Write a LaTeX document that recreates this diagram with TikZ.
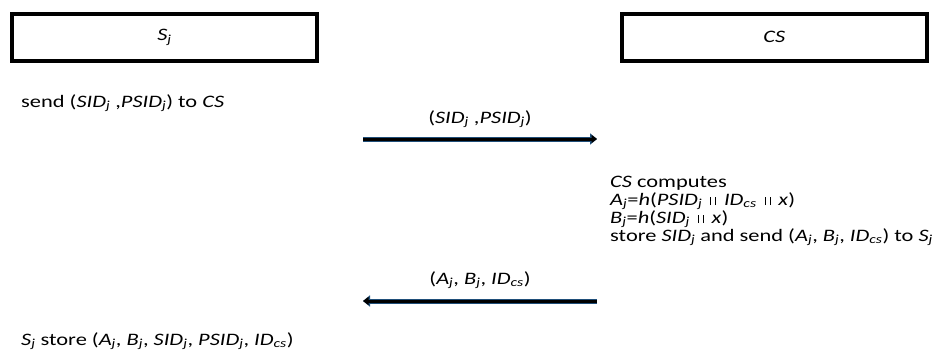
\documentclass[tikz,border=0pt]{standalone}
\usepackage{fontspec}
\setmainfont[FakeStretch=1.28]{Carlito}
\usetikzlibrary{arrows.meta}
\newcommand{\isub}[1]{\textsubscript{\textit{#1}}}
\newcommand{\cc}{\hspace{8pt}\rule{0.9pt}{8pt}\hspace{4pt}\rule{0.9pt}{8pt}\hspace{8pt}}
\begin{document}
\begin{tikzpicture}[x=1pt,y=-1pt,
  actor/.style={draw, line width=4pt, minimum width=305pt, minimum height=47pt, inner sep=0pt, font=\fontsize{17.5}{18}\selectfont},
  txt/.style={anchor=base west, inner sep=0pt, font=\fontsize{17.5}{18}\selectfont},
  lbl/.style={anchor=base, inner sep=0pt, font=\fontsize{17.5}{18}\selectfont},
  msgblue/.style={line width=5pt, draw={rgb,255:red,31;green,78;blue,121}, -{Triangle[length=7pt,width=11pt]}},
  msgblack/.style={line width=3pt, draw=black, -{Triangle[length=5.5pt,width=8pt]}}]
\useasboundingbox (0,0) rectangle (952,356);
\node[actor] (sj) at (164.5,37.2) {\textit{S\isub{j}}};
\node[actor] (cs) at (774.3,37.2) {\textit{CS}};
\node[txt] (t1) at (21,107) {send (\textit{SID\isub{j}} ,\textit{PSID\isub{j}}) to \textit{CS}};
\coordinate (a1s) at (363,139);
\coordinate (a1e) at (597,139);
\node[lbl] (l1) at (480,123) {(\textit{SID\isub{j}} ,\textit{PSID\isub{j}})};
\draw[msgblue] (a1s) -- (a1e);
\draw[msgblack] (a1s) -- (a1e);
\node[txt] (c1) at (610,187) {\textit{CS} computes};
\node[txt] (c2) at (610,205) {\textit{A\isub{j}}=\textit{h}(\textit{PSID\isub{j}}\cc\textit{ID\isub{cs}}\cc\textit{x})};
\node[txt] (c3) at (610,223) {\textit{B\isub{j}}=\textit{h}(\textit{SID\isub{j}}\cc\textit{x})};
\node[txt] (c4) at (610,241) {store \textit{SID\isub{j}} and send (\textit{A\isub{j}}, \textit{B\isub{j}}, \textit{ID\isub{cs}}) to \textit{S\isub{j}}};
\coordinate (a2s) at (597,301);
\coordinate (a2e) at (363,301);
\node[lbl] (l2) at (480,284) {(\textit{A\isub{j}}, \textit{B\isub{j}}, \textit{ID\isub{cs}})};
\draw[msgblue] (a2s) -- (a2e);
\draw[msgblack] (a2s) -- (a2e);
\node[txt] (t2) at (21,345) {\textit{S\isub{j}} store (\textit{A\isub{j}}, \textit{B\isub{j}}, \textit{SID\isub{j}}, \textit{PSID\isub{j}}, \textit{ID\isub{cs}})};
\end{tikzpicture}
\end{document}
